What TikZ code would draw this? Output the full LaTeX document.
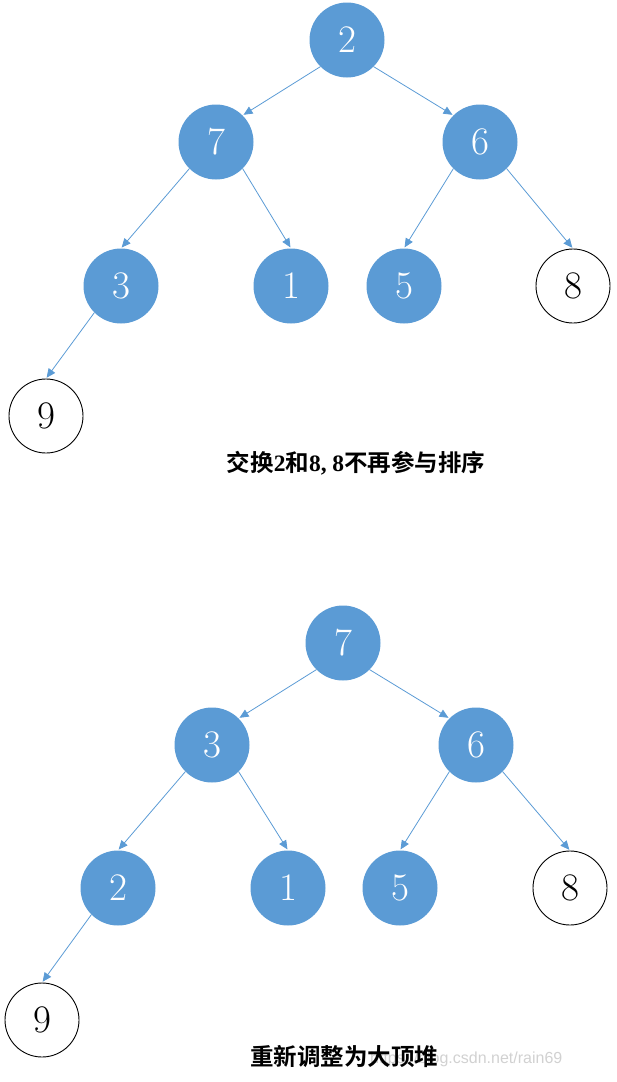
\documentclass[tikz,border=0pt]{standalone}
\usepackage{fontspec}
\newfontfamily\cjkb{Noto Sans CJK SC Bold}
\newfontfamily\latb{Liberation Serif}[BoldFont={Liberation Serif Bold}]
\newfontfamily\wmfont{Liberation Sans}
\definecolor{nodeblue}{HTML}{5B9BD5}
\definecolor{edgeblue}{HTML}{5B9BD5}
\usetikzlibrary{arrows.meta}
\begin{document}
\begin{tikzpicture}[x=1pt,y=-1pt,
  bnode/.style={circle,fill=nodeblue,draw=none,minimum size=75pt,inner sep=0pt,text=white,font=\fontsize{39}{39}\selectfont},
  wnode/.style={circle,fill=white,draw=black,line width=0.9pt,minimum size=74pt,inner sep=0pt,text=black,font=\fontsize{39}{39}\selectfont},
  conn/.style={draw=edgeblue,line width=0.8pt,-{Triangle[length=9pt,width=8pt]},shorten >=1pt},
  captext/.style={font=\fontsize{23.5}{23.5}\selectfont\cjkb,inner sep=0pt},
]
\path[use as bounding box] (0,0) rectangle (617,1082);
% ---------- top tree ----------
\node[bnode] (a2) at (347,40) {2};
\node[bnode] (a7) at (216,142) {7};
\node[bnode] (a6) at (480,142) {6};
\node[bnode] (a3) at (121,286) {3};
\node[bnode] (a1) at (291,286) {1};
\node[bnode] (a5) at (404,286) {5};
\node[wnode] (a8) at (573,286) {8};
\node[wnode] (a9) at (46,416) {9};
\draw[conn] (a2.south west) -- (a7.north east);
\draw[conn] (a2.south east) -- (a6.north west);
\draw[conn] (a7.south west) -- (a3.north);
\draw[conn] (a7.south east) -- (a1.north);
\draw[conn] (a6.south west) -- (a5.north);
\draw[conn] (a6.south east) -- (a8.north);
\draw[conn] (a3.south west) -- (a9.north);
\node[captext] (cap1) at (356,463) {交换{\latb\bfseries 2}和{\latb\bfseries 8, 8}不再参与排序};
% ---------- bottom tree ----------
\node[bnode] (b7) at (343,643) {7};
\node[bnode] (b3) at (212,745) {3};
\node[bnode] (b6) at (476,745) {6};
\node[bnode] (b2) at (118,888) {2};
\node[bnode] (b1) at (288,888) {1};
\node[bnode] (b5) at (400,888) {5};
\node[wnode] (b8) at (570,888) {8};
\node[wnode] (b9) at (42,1020) {9};
\draw[conn] (b7.south west) -- (b3.north east);
\draw[conn] (b7.south east) -- (b6.north west);
\draw[conn] (b3.south west) -- (b2.north);
\draw[conn] (b3.south east) -- (b1.north);
\draw[conn] (b6.south west) -- (b5.north);
\draw[conn] (b6.south east) -- (b8.north);
\draw[conn] (b2.south west) -- (b9.north);
\node[inner sep=0pt,anchor=west,text=black!18,font=\wmfont\fontsize{16}{16}\selectfont] (wm) at (370,1059) {https://blog.csdn.net/rain69};
\node[captext,anchor=west] (cap2) at (250,1057) {重新调整为大顶堆};
\end{tikzpicture}
\end{document}
